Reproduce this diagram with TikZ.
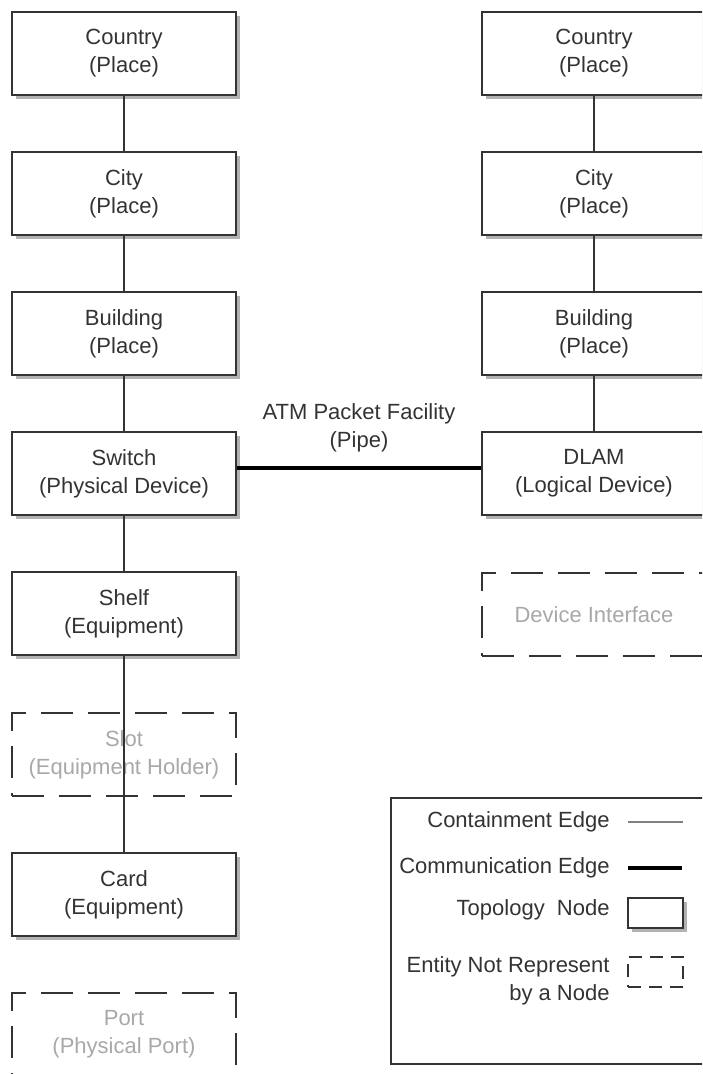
\documentclass[tikz,border=0pt]{standalone}
\usepackage{fontspec}
\setmainfont{Liberation Sans}
\usetikzlibrary{shadows,positioning}
\definecolor{inkgray}{HTML}{333333}
\definecolor{fadegray}{HTML}{A8A8A8}
\definecolor{edgegray}{HTML}{333333}

\begin{document}
\begin{tikzpicture}[
  x=0.5pt, y=-0.5pt,
  every node/.style={font=\fontsize{11}{14}\selectfont, text=inkgray},
  box/.style={draw=edgegray, line width=0.9pt, fill=white, align=center, minimum width=112pt, minimum height=41.5pt, inner sep=0pt,
    drop shadow={shadow xshift=1.8pt, shadow yshift=-1.8pt, opacity=1, fill=black!30}},
  ghost/.style={draw=edgegray, line width=0.9pt, dash pattern=on 16pt off 7.5pt, align=center, minimum width=112pt, minimum height=41.5pt, inner sep=0pt, text=fadegray},
  contain/.style={draw=edgegray, line width=0.75pt},
  comm/.style={draw=black, line width=2pt},
]
  \useasboundingbox (0,0) rectangle (702,1074);
  \clip (0,0) rectangle (702,1074);

  % left column
  \node[box]   (countryA) at (124,53.5)   {Country\\(Place)};
  \node[box]   (cityA)    at (124,193.5)  {City\\(Place)};
  \node[box]   (bldgA)    at (124,333.5)  {Building\\(Place)};
  \node[box]   (switch)   at (124,473.5)  {Switch\\(Physical Device)};
  \node[box]   (shelf)    at (124,613.5)  {Shelf\\(Equipment)};
  \node[ghost] (slot)     at (124,754.5)  {Slot\\(Equipment Holder)};
  \node[box]   (card)     at (124,894.5)  {Card\\(Equipment)};
  \node[ghost] (port)     at (124,1034.5) {Port\\(Physical Port)};

  % right column
  \node[box]   (countryB) at (594,53.5)  {Country\\(Place)};
  \node[box]   (cityB)    at (594,193.5) {City\\(Place)};
  \node[box]   (bldgB)    at (594,333.5) {Building\\(Place)};
  \node[box]   (dlam)     at (594,473.5) {DLAM\\(Logical Device)};
  \node[ghost] (devif)    at (594,614.5) {Device Interface};

  \draw[contain] (countryA) -- (cityA);
  \draw[contain] (cityA) -- (bldgA);
  \draw[contain] (bldgA) -- (switch);
  \draw[contain] (switch) -- (shelf);
  \draw[contain] (shelf) -- (card);
  \draw[contain] (countryB) -- (cityB);
  \draw[contain] (cityB) -- (bldgB);
  \draw[contain] (bldgB) -- (dlam);

  \draw[comm] ([yshift=2.75pt]switch.east) -- node[above=3.5pt, align=center] (pipelbl) {ATM Packet Facility\\(Pipe)} ([yshift=2.75pt]dlam.west);

  % legend
  \node[draw=edgegray, line width=0.9pt, minimum width=170pt, minimum height=133pt, anchor=north west, inner sep=0pt] (legend) at (390,797) {};
  \node[anchor=east, inner sep=0pt] (lgcont) at (610,822) {Containment Edge};
  \node[anchor=east, inner sep=0pt] (lgcomm) at (610,868) {Communication Edge};
  \node[anchor=east, inner sep=0pt] (lgtopo) at (610,910) {Topology~ Node};
  \node[anchor=east, align=right, inner sep=0pt] (lgent) at (610,980.5) {Entity Not Represent\\by a Node};

  \coordinate (lc1) at (628,822);
  \coordinate (lc2) at (683,822);
  \coordinate (lm1) at (628,868);
  \coordinate (lm2) at (682,868);
  \draw[draw=black!50, line width=1.3pt] (lc1) -- (lc2);
  \draw[comm] (lm1) -- (lm2);
  \node[box, minimum width=27.5pt, minimum height=15pt] (lgbox) at (655.5,913) {};
  \node[ghost, minimum width=27.5pt, minimum height=15pt, dash pattern=on 6.5pt off 4pt] (lgghost) at (655.5,972) {};
\end{tikzpicture}
\end{document}
